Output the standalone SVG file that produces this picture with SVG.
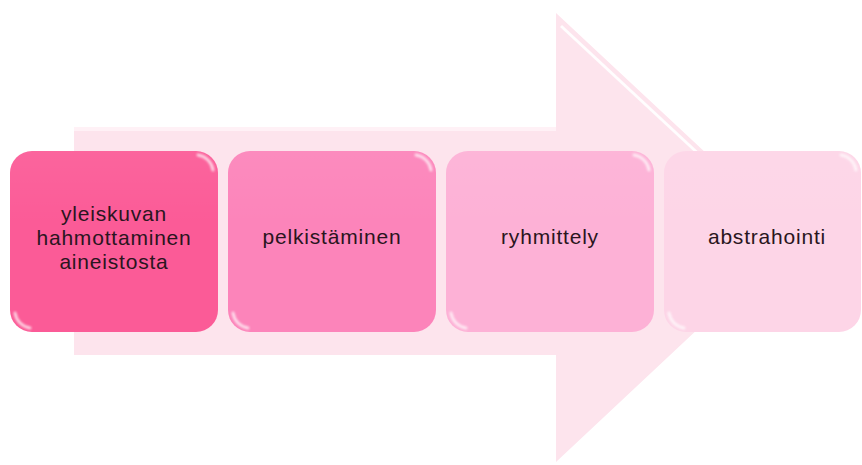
<svg xmlns="http://www.w3.org/2000/svg" width="862" height="465" viewBox="0 0 862 465">
  <defs>
    <style>
      .lbl { font-family: "Liberation Sans", Arial, sans-serif; font-size: 21px; letter-spacing: 0.8px; fill: #2a1520; text-anchor: middle; }
      .gloss { fill: none; stroke: #ffffff; stroke-width: 3; stroke-linecap: round; opacity: 0.7; filter: url(#soft); }
    </style>
    <filter id="soft" x="-20%" y="-20%" width="140%" height="140%">
      <feGaussianBlur stdDeviation="0.9"/>
    </filter>
    <linearGradient id="shine" x1="0" y1="0" x2="0" y2="1">
      <stop offset="0" stop-color="#ffffff" stop-opacity="0.06"/>
      <stop offset="0.4" stop-color="#ffffff" stop-opacity="0"/>
    </linearGradient>
  </defs>

  <rect width="862" height="465" fill="#ffffff"/>

  <!-- background process arrow -->
  <g id="arrow">
    <path d="M74,127 H556 V13 L796,237 L556,462 V355 H74 Z" fill="#fde4ed"/>
    <path d="M74,129 H556" stroke="#fff1f6" stroke-width="4" fill="none"/>
    <path d="M561,26 L703,158" stroke="#ffffff" stroke-width="3" fill="none" opacity="0.9"/>
  </g>

  <g id="connectors"/>

  <!-- step 1 -->
  <g id="step1">
    <rect x="10" y="151" width="208" height="181" rx="22" fill="#fb5b97"/>
    <rect x="10" y="151" width="208" height="181" rx="22" fill="url(#shine)"/>
    <path class="gloss" d="M198,155 A18,18 0 0 1 213,170"/>
    <path class="gloss" d="M15,313 A18,18 0 0 0 30,328"/>
    <text class="lbl" x="114" y="221">yleiskuvan</text>
    <text class="lbl" x="114" y="245">hahmottaminen</text>
    <text class="lbl" x="114" y="269">aineistosta</text>
  </g>

  <!-- step 2 -->
  <g id="step2">
    <rect x="228" y="151" width="208" height="181" rx="22" fill="#fc84ba"/>
    <rect x="228" y="151" width="208" height="181" rx="22" fill="url(#shine)"/>
    <path class="gloss" d="M416,155 A18,18 0 0 1 431,170"/>
    <path class="gloss" d="M233,313 A18,18 0 0 0 248,328"/>
    <text class="lbl" x="332" y="244">pelkistäminen</text>
  </g>

  <!-- step 3 -->
  <g id="step3">
    <rect x="446" y="151" width="208" height="181" rx="22" fill="#fdb1d6"/>
    <rect x="446" y="151" width="208" height="181" rx="22" fill="url(#shine)"/>
    <path class="gloss" d="M634,155 A18,18 0 0 1 649,170"/>
    <path class="gloss" d="M451,313 A18,18 0 0 0 466,328"/>
    <text class="lbl" x="550" y="244">ryhmittely</text>
  </g>

  <!-- step 4 -->
  <g id="step4">
    <rect x="664" y="151" width="197" height="181" rx="22" fill="#fdd5e7"/>
    <rect x="664" y="151" width="197" height="181" rx="22" fill="url(#shine)"/>
    <path class="gloss" d="M841,155 A18,18 0 0 1 856,170"/>
    <path class="gloss" d="M669,313 A18,18 0 0 0 684,328"/>
    <text class="lbl" x="767" y="244">abstrahointi</text>
  </g>
</svg>
